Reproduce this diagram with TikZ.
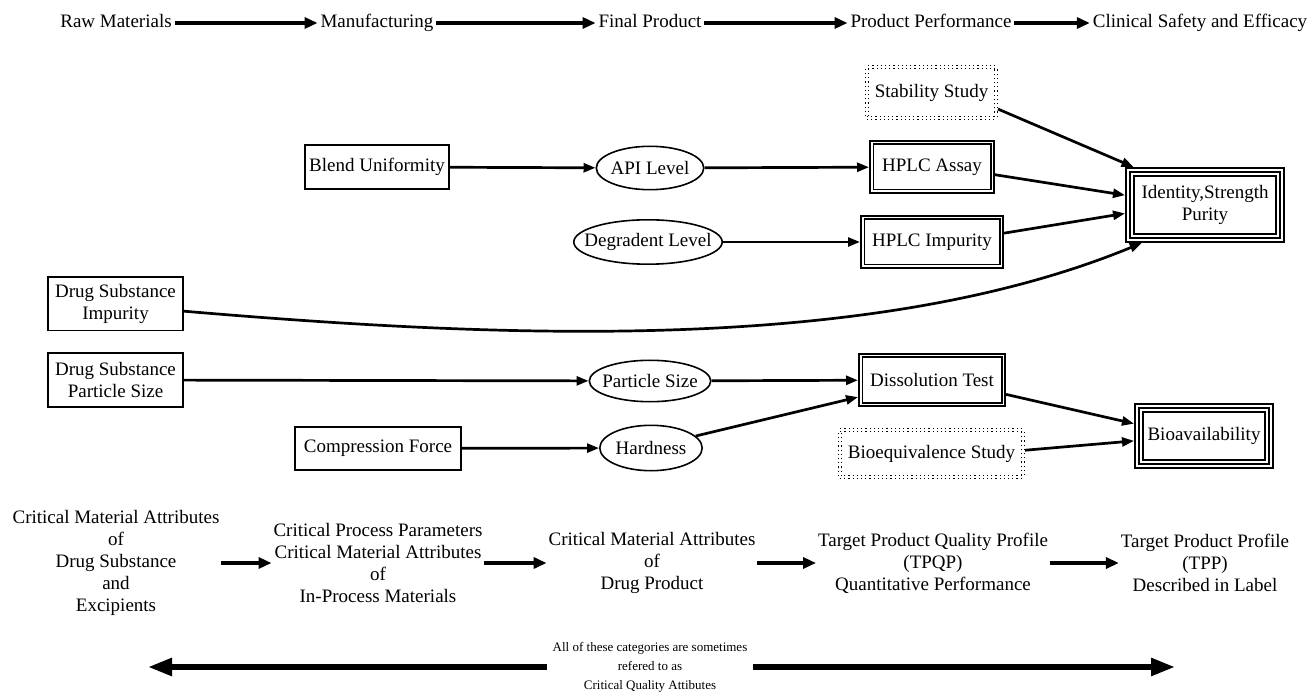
\documentclass[tikz,border=0pt]{standalone}
\usepackage{fontspec}
\setmainfont{Liberation Serif}
\usetikzlibrary{arrows.meta,shapes.geometric,calc}
\newcommand{\zw}[1]{\makebox[0pt]{#1}}
\begin{document}
\begin{tikzpicture}[x=1pt,y=-1pt,
  font=\fontsize{19}{22}\selectfont,
  sbox/.style={draw, line width=1.6pt, align=center, inner sep=1pt},
  ell/.style={ellipse, draw, line width=1.6pt, inner sep=0pt},
  dbox/.style={draw, line width=1.7pt, double, double distance=1.8pt, outer sep=2.6pt, align=center, inner sep=1pt},
  tbox/.style={draw, line width=1.8pt, double, double distance=6.6pt, outer sep=5.1pt, align=center, inner sep=1pt},
  dotbox/.style={draw, line width=1.2pt, double, double distance=1.6pt, dash pattern=on 1.2pt off 3pt, outer sep=2pt, inner sep=1pt},
  arr/.style={line width=2.7pt, -{Triangle[length=12pt,width=9pt]}},
  bigarr/.style={line width=4pt, -{Triangle[length=13pt,width=11pt]}},
  cqaarr/.style={line width=5.5pt, -{Triangle[length=24pt,width=17pt]}},
  ttl/.style={inner sep=0pt, outer sep=3pt, text height=13.5pt, text depth=4.5pt},
  btext/.style={align=center, inner sep=0pt, outer sep=2pt},
  midline/.style={line width=1.4pt}
]
\useasboundingbox (0,0) rectangle (1314,692);

% top row
\node[ttl] (rm) at (116,23) {Raw Materials};
\node[ttl] (mf) at (377,23) {Manufacturing};
\node[ttl] (fp) at (650,23) {Final Product};
\node[ttl] (pp) at (931,23) {Product Performance};
\node[ttl] (cs) at (1200,23) {Clinical Safety and Efficacy};
\draw[bigarr] (rm.east) -- (mf.west);
\draw[bigarr] (mf.east) -- (fp.west);
\draw[bigarr] (fp.east) -- (pp.west);
\draw[bigarr] (pp.east) -- (cs.west);

% middle nodes
\node[dotbox, minimum width=129pt, minimum height=51pt] (ss) at (931.5,92.5) {Stability Study};
\node[sbox, minimum width=144.4pt, minimum height=44.4pt] (bu) at (377,167) {Blend Uniformity};
\node[ell, minimum width=107.4pt, minimum height=43.4pt] (api) at (650,168) {\zw{API Level}};
\node[dbox, minimum width=120.8pt, minimum height=48.8pt] (ha) at (932,167) {HPLC Assay};
\node[ell, minimum width=148.4pt, minimum height=44.4pt] (dl) at (648,242) {\zw{Degradent Level}};
\node[dbox, minimum width=138.8pt, minimum height=48.8pt] (hi) at (932,242) {HPLC Impurity};
\node[tbox, minimum width=149.8pt, minimum height=65.8pt] (id) at (1205,205) {Identity,Strength\\Purity};
\node[sbox, minimum width=135.4pt, minimum height=53.4pt] (dsi) at (115.5,304) {Drug Substance\\Impurity};
\node[sbox, minimum width=135.4pt, minimum height=54.4pt] (dsp) at (115.5,380) {Drug Substance\\Particle Size};
\node[ell, minimum width=121.4pt, minimum height=41.4pt] (ps) at (650,381) {\zw{Particle Size}};
\node[dbox, minimum width=142.8pt, minimum height=48.8pt] (dt) at (932,380) {Dissolution Test};
\node[sbox, minimum width=166.4pt, minimum height=43.4pt] (cf) at (378,448.5) {Compression Force};
\node[ell, minimum width=102.4pt, minimum height=45.4pt] (hd) at (651,448) {\zw{Hardness}};
\node[dotbox, minimum width=183pt, minimum height=47pt] (be) at (931.5,453.5) {Bioequivalence Study};
\node[tbox, minimum width=129.8pt, minimum height=55.8pt] (ba) at (1204,436) {Bioavailability};

\draw[midline] ($(id.south west)+(5.1pt,5.1pt)$) rectangle ($(id.north east)+(-5.1pt,-5.1pt)$);
\draw[midline] ($(ba.south west)+(5.1pt,5.1pt)$) rectangle ($(ba.north east)+(-5.1pt,-5.1pt)$);

% connectors
\draw[arr] (bu) -- (api);
\draw[arr] (api) -- (ha);
\draw[arr] (dl) -- (hi);
\draw[arr] (ss.-14) -- (id.152);
\draw[arr] (ha.-7) -- (id.173);
\draw[arr] (hi.7) -- (id.-174);
\draw[arr] (dsi.-6) .. controls (500,338) and (870,355) .. (id.-149);
\draw[arr] (dsp) -- (ps);
\draw[arr] (ps) -- (dt);
\draw[arr] (cf) -- (hd);
\draw[arr] (hd.15) -- (dt.-167);
\draw[arr] (dt.-11) -- (ba.170);
\draw[arr] (be.2) -- (ba.-176);

% bottom row
\node[btext] (t1) at (116,563) {Critical Material Attributes\\of\\Drug Substance\\and\\Excipients};
\node[btext] (t2) at (378,563) {Critical Process Parameters\\Critical Material Attributes\\of\\In-Process Materials};
\node[btext] (t3) at (652,563) {Critical Material Attributes\\of\\Drug Product};
\node[btext] (t4) at (933,563) {Target Product Quality Profile\\(TPQP)\\Quantitative Performance};
\node[btext] (t5) at (1205,563) {Target Product Profile\\(TPP)\\Described in Label};
\draw[bigarr] (t1.east) -- (t2.west);
\draw[bigarr] (t2.east) -- (t3.west);
\draw[bigarr] (t3.east) -- (t4.west);
\draw[bigarr] (t4.east) -- (t5.west);

% critical quality attributes
\node[align=center, inner sep=0pt, outer sep=6pt, font=\fontsize{13}{19}\selectfont] (cqa) at (650,667) {All of these categories are sometimes\\refered to as\\Critical Quality Attibutes};
\coordinate (cl) at (148,667);
\coordinate (cr) at (1175,667);
\draw[cqaarr] (cqa.west) -- (cl);
\draw[cqaarr] (cqa.east) -- (cr);
\end{tikzpicture}
\end{document}
